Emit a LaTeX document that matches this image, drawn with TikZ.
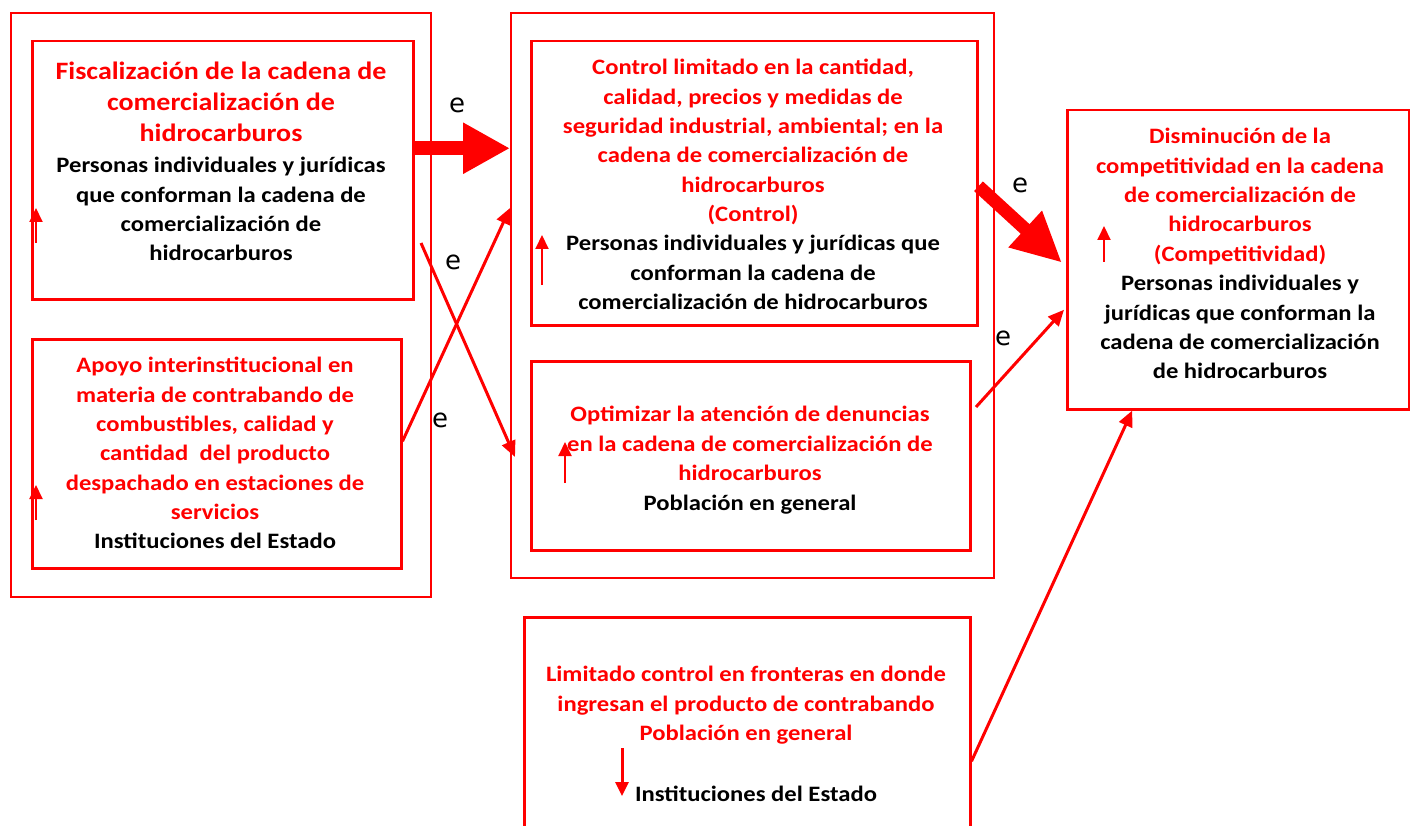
\documentclass[tikz,border=0pt]{standalone}
\usepackage{fontspec}
\setmainfont{Carlito}[FakeStretch=1.12]
\newfontfamily\labfont{DejaVu Sans}
\usetikzlibrary{arrows.meta}
\definecolor{rd}{RGB}{255,0,0}
\tikzset{
  bx/.style={draw=rd, line width=2.5pt, inner sep=0pt, anchor=north west},
  obx/.style={draw=rd, line width=2pt, inner sep=0pt, anchor=north west},
  rt/.style={align=center, inner sep=0pt, anchor=north, text=rd, font=\bfseries\fontsize{22}{29.4}\selectfont},
  bt/.style={align=center, inner sep=0pt, anchor=north, text=black, font=\bfseries\fontsize{22}{29.4}\selectfont},
  lab/.style={inner sep=0pt, font=\labfont\fontsize{26}{30}\selectfont},
  thin/.style={draw=rd, line width=3pt, -{Triangle[width=14pt,length=16pt]}},
  thick/.style={draw=rd, line width=14pt, -{Triangle[width=48pt,length=47pt]}},
  small/.style={draw=rd, line width=2pt, -{Triangle[width=13pt,length=14pt]}}
}
\begin{document}
\begin{tikzpicture}[x=1pt,y=-1pt]
\useasboundingbox (0,0) rectangle (1410,826);
% outer boxes
\node[obx, minimum width=420pt, minimum height=584pt] (LO) at (10,12) {};
\node[obx, minimum width=483pt, minimum height=565pt] (MO) at (510,12) {};
% inner boxes
\node[bx, minimum width=381pt, minimum height=258pt] (A) at (31,40) {};
\node[bx, minimum width=369pt, minimum height=229pt] (B) at (31,338) {};
\node[bx, minimum width=446pt, minimum height=284pt] (C) at (530,40) {};
\node[bx, minimum width=439pt, minimum height=189pt] (D) at (530,360) {};
\node[bx, minimum width=342pt, minimum height=299pt] (E) at (1066,109) {};
\node[bx, minimum width=446pt, minimum height=240pt] (F) at (523,616) {};
% texts
\node[rt, font=\bfseries\fontsize{25}{31}\selectfont] (At) at (221,62) {Fiscalización de la cadena de\\comercialización de\\hidrocarburos};
\node[bt] (Ab) at (221,157) {Personas individuales y jurídicas\\que conforman la cadena de\\comercialización de\\hidrocarburos};
\node[rt] (Bt) at (215,357) {Apoyo interinstitucional en\\materia de contrabando de\\combustibles, calidad y\\cantidad\ \ del producto\\despachado en estaciones de\\servicios};
\node[bt] (Bb) at (215,533) {Instituciones del Estado};
\node[rt] (Ct) at (753,59) {Control limitado en la cantidad,\\calidad, precios y medidas de\\seguridad industrial, ambiental; en la\\cadena de comercialización de\\hidrocarburos\\(Control)};
\node[bt] (Cb) at (753,235) {Personas individuales y jurídicas que\\conforman la cadena de\\comercialización de hidrocarburos};
\node[rt] (Dt) at (750,406) {Optimizar la atención de denuncias\\en la cadena de comercialización de\\hidrocarburos};
\node[bt] (Db) at (750,495) {Población en general};
\node[rt] (Et) at (1240,128) {Disminución de la\\competitividad en la cadena\\de comercialización de\\hidrocarburos\\(Competitividad)};
\node[bt] (Eb) at (1240,275) {Personas individuales y\\jurídicas que conforman la\\cadena de comercialización\\de hidrocarburos};
\node[rt] (Ft) at (746,666) {Limitado control en fronteras en donde\\ingresan el producto de contrabando\\Población en general};
\node[bt] (Fb) at (756,786) {Instituciones del Estado};
% small arrows
\coordinate (a1) at (36,243); \coordinate (a2) at (36,208);
\draw[small] (a1) -- (a2);
\coordinate (b1) at (36,520); \coordinate (b2) at (36,485);
\draw[small] (b1) -- (b2);
\coordinate (c1) at (542,285); \coordinate (c2) at (542,235);
\draw[small] (c1) -- (c2);
\coordinate (d1) at (565,483); \coordinate (d2) at (565,442);
\draw[small] (d1) -- (d2);
\coordinate (e1) at (1104,262); \coordinate (e2) at (1104,226);
\draw[small] (e1) -- (e2);
\coordinate (f1) at (622,748); \coordinate (f2) at (622,796);
\draw[small, line width=3pt] (f1) -- (f2);
% connectors
\draw[thick] ([yshift=22pt]A.east) -- ([yshift=22pt]A.east -| MO.west);
\coordinate (x1) at (421,243); \coordinate (x2) at (515,457);
\draw[thin] (x1) -- (x2);
\draw[thin] ([yshift=12.5pt]B.east) -- ([yshift=87.5pt]MO.west);
\draw[thick, line width=13pt, -{Triangle[width=46pt,length=50pt]}] ([yshift=-3pt]C.east) -- ([yshift=-3pt,xshift=-4pt]E.west);
\coordinate (y1) at (976,407);
\draw[thin] (y1) -- ([yshift=-50pt,xshift=-2pt]E.west);
\draw[thin] ([yshift=-24pt]F.east) -- ([xshift=-106pt]E.south);
% labels
\node[lab] (l1) at (457,105) {e};
\node[lab] (l2) at (453,262) {e};
\node[lab] (l3) at (440,420) {e};
\node[lab] (l4) at (1020,185) {e};
\node[lab] (l5) at (1003,338) {e};
\end{tikzpicture}
\end{document}
